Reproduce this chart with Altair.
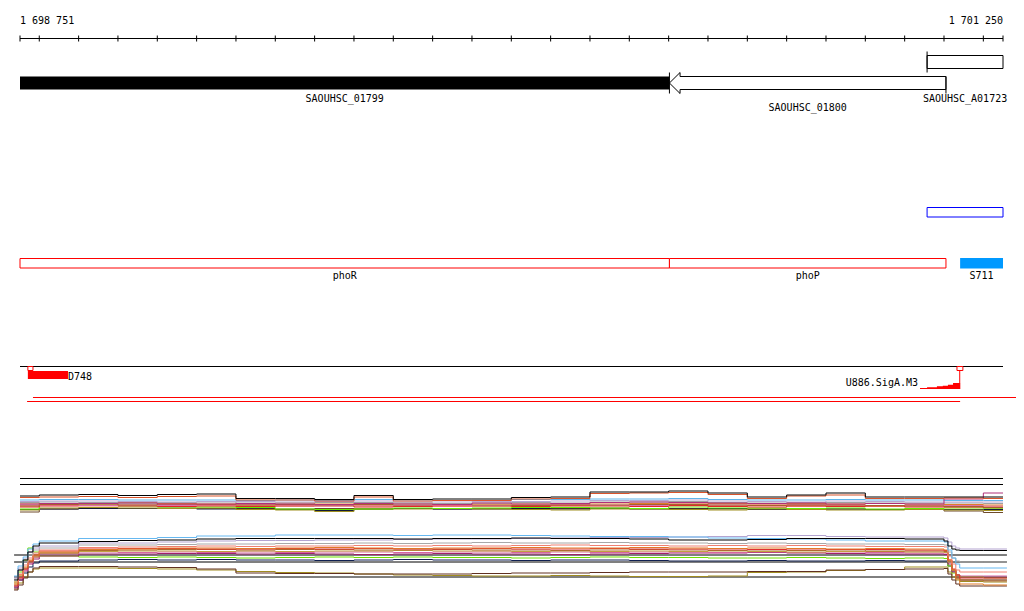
import altair as alt
import pandas as pd

# ------------------------------------------------------------------ data
VIEW_START = 1698751
VIEW_END = 1701250
RULER_TICKS = [VIEW_START] + list(range(1698800, 1701201, 100)) + [VIEW_END]

gene_names = ["SAOUHSC_01799", "SAOUHSC_01800", "SAOUHSC_A01723"]
gene_starts = [1698751, 1700402, 1701057]
gene_ends = [1700402, 1701105, 1701250]
gene_strands = ["+", "-", "+"]

blue_feature_start = [1701057]
blue_feature_end = [1701250]

operon_names = ["phoR", "phoP"]
operon_starts = [1698751, 1700402]
operon_ends = [1700402, 1701105]

srna_names = ["S711"]
srna_starts = [1701141]
srna_ends = [1701250]

tss_names = ["D748", "U886.SigA.M3"]
tss_marker_start = [1698771, 1701133]
tss_marker_end = [1698784, 1701148]
d748_bar = [1698771, 1698873]
u886_stem = [1701140]
u886_score_pos = [1701039, 1701057, 1701082, 1701097, 1701110, 1701123, 1701141]
u886_score = [1, 1.7, 2.7, 3.3, 4.3, 6, 6]

transcript_starts = [1698784, 1698769]
transcript_ends = [1701300, 1701141]

# coverage profiles, upper panel (level above panel baseline)
TOP_POS = [1698751, 1698800, 1698900, 1699000, 1699100, 1699200, 1699300, 1699400,
           1699500, 1699600, 1699700, 1699800, 1699900, 1700000, 1700100, 1700200,
           1700300, 1700400, 1700500, 1700600, 1700700, 1700800, 1700900, 1701000,
           1701100, 1701200, 1701250]
top_black = [18, 19, 19.5, 18.5, 19.5, 20, 15.5, 15.5, 14.5, 18.5, 14.5, 15, 15, 16.5, 17, 22, 22, 23, 21, 17, 19, 21, 17, 17, 17, 17, 17]
top_orange_red = [16.5, 17, 17.5, 16.5, 17.5, 18, 14, 14, 13, 17, 13, 13.5, 13.5, 15, 15.5, 20.5, 21, 21.5, 19.5, 15.5, 18, 19, 15.5, 15.5, 16, 15.5, 15.5]
top_magenta = [10, 10.5, 10.5, 11, 10, 10, 10.5, 10, 9.5, 10.5, 10, 9.5, 11, 10, 10.5, 11.5, 12, 11.5, 11, 10.5, 11, 10, 10.5, 10, 15, 21, 21]
top_light_blue = [14, 14.5, 14.5, 14, 14, 14, 13.5, 14, 13.5, 14.5, 14, 13.5, 13.5, 14.5, 14.5, 15, 15, 15.5, 14.5, 14, 14, 14.5, 14, 14, 13.5, 13.5, 13.5]
top_lavender = [12.5, 13, 13, 12.5, 12, 12.5, 12.5, 12, 12.5, 13, 12, 12, 12.5, 12.5, 13, 13.5, 13.5, 14, 13, 12.5, 12, 13, 12.5, 12, 12, 12, 12]
top_gray = [11.5, 12, 11.5, 11, 11.5, 12, 11, 11, 11.5, 11.5, 11, 10.5, 11, 11.5, 11, 12, 12, 12.5, 11.5, 11, 11.5, 11.5, 11, 11, 11, 10.5, 10.5]
top_orange = [11, 10.5, 11, 11.5, 10.5, 10, 10.5, 11, 10, 10.5, 11, 10.5, 10, 10, 10.5, 11, 10.5, 11, 10.5, 10, 10.5, 10, 10.5, 10, 9.5, 9, 9]
top_brown = [8, 9.5, 10, 9, 10, 9.5, 9, 9.5, 9, 9.5, 9, 9.5, 9, 8.5, 9, 9, 9.5, 9.5, 9, 8.5, 9, 9, 8.5, 8, 7.5, 6.5, 6.5]
top_pink = [9, 9, 8.5, 9, 8.5, 9, 9.5, 9, 8.5, 9, 8.5, 9, 8.5, 9, 9.5, 9, 8.5, 10, 9, 9, 9.5, 9, 8.5, 9, 8.5, 8, 8]
top_red = [7, 8, 8.5, 8, 7.5, 8, 7.5, 8, 8, 7, 7.5, 8, 8, 7.5, 8, 8, 7.5, 8.5, 7.5, 7, 8, 7.5, 8, 7, 7, 6.5, 6.5]
top_salmon = [8, 8.5, 8, 8.5, 9, 8.5, 8, 8.5, 9, 8.5, 8, 8, 8.5, 8, 8.5, 8.5, 9, 9, 8.5, 8.5, 8, 8.5, 8, 8.5, 8, 7.5, 7.5]
top_green = [5, 8.5, 8.5, 8, 7, 7, 6.5, 5, 4.5, 5, 6, 5.5, 6, 6.5, 6.5, 6, 5.5, 7, 6, 6, 5.5, 6, 5, 5.5, 6, 5.5, 5.5]
top_tan = [9, 10, 9.5, 10, 9.5, 9, 8.5, 8, 9, 8, 7.5, 8.5, 8, 8.5, 9, 8.5, 9, 8, 7.5, 8.5, 8, 8, 7.5, 8, 7, 6, 6]
top_olive = [4, 6, 6.5, 6, 5.5, 6, 4.5, 4, 2.5, 5, 5, 5.5, 5, 4.5, 4, 5, 5, 4.5, 4, 5, 4.5, 4, 4, 4.5, 4, 3.5, 3.5]
top_navy = [4.5, 5, 5.5, 5.5, 5.5, 5, 5, 4.5, 3.5, 5, 5.5, 5, 5, 5.5, 5, 5.5, 5, 5, 5.5, 4.5, 5, 5, 4.5, 5, 4.5, 4.5, 4.5]
top_dark_brown = [2, 5, 6, 5.5, 6, 5.5, 5.5, 5, 5.5, 5, 5.5, 5, 5.5, 5, 5.5, 6, 5.5, 5.5, 5, 5, 5.5, 5, 4.5, 4.5, 3, 1.5, 1.5]

# coverage profiles, lower panel (level above panel baseline)
BOTTOM_POS = [1698736, 1698746, 1698759, 1698771, 1698784, 1698800, 1698900, 1699000,
              1699100, 1699200, 1699300, 1699400, 1699500, 1699600, 1699700, 1699800,
              1699900, 1700000, 1700100, 1700200, 1700300, 1700400, 1700500, 1700600,
              1700700, 1700800, 1700900, 1701000, 1701100, 1701110, 1701120, 1701130,
              1701140, 1701200, 1701260]
bot_light_blue = [16, 26, 35, 43, 48, 51, 53.5, 53.5, 54.5, 56, 56, 57, 57, 57, 56.5, 57, 57, 56.5, 56, 55.5, 55.5, 55, 54, 53.5, 53, 52, 51, 51, 50, 42, 34, 28, 24, 24, 24]
bot_black = [12, 22, 32, 40, 46, 49, 50.5, 51.5, 52, 53, 53.5, 53.5, 53.5, 53.5, 53, 53.5, 53.5, 54, 53.5, 53.5, 53, 52, 52, 52.5, 53.5, 53.5, 53.5, 53, 51, 46, 43, 42, 41.5, 41.5, 41.5]
bot_lavender = [14, 24, 33, 40, 44, 46, 49, 49, 50, 51, 51.5, 51.5, 52, 52, 52.5, 53, 53, 53.5, 54, 54.5, 54.5, 55, 55.5, 56.5, 56.5, 55.5, 55, 55, 54, 50, 46, 44, 43, 43, 43]
bot_gray = [13, 22, 30, 37, 42, 44, 47, 47, 47.5, 48, 48, 48.5, 48.5, 49, 48.5, 49, 49.5, 49, 49, 49.5, 49, 49, 48.5, 49, 48.5, 48, 48, 47.5, 47, 40, 34, 31, 30, 30, 30]
bot_salmon = [10, 18, 27, 34, 39, 42, 44.5, 45, 45.5, 46, 45.5, 46, 46, 46.5, 46, 46.5, 46, 46.5, 47, 46.5, 46.5, 46, 46.5, 46, 46.5, 46, 45.5, 45.5, 45, 36, 28, 22, 20, 20, 20]
bot_orange = [8, 17, 25, 32, 37, 40, 42.5, 43, 44, 44, 43.5, 44, 44.5, 44, 43.5, 44, 44, 44.5, 44, 44, 44.5, 44, 43.5, 44, 43.5, 43, 43.5, 43, 42, 32, 22, 13, 8, 7, 7]
bot_brown = [7, 15, 23, 30, 35, 39, 41.5, 42, 42.5, 42.5, 42, 42.5, 42.5, 42, 42, 42.5, 42, 42, 41.5, 42, 42.5, 42, 41.5, 42, 41.5, 42, 41, 41, 40.5, 31, 22, 15, 12, 11, 11]
bot_khaki = [9, 17, 24, 31, 36, 39, 40.5, 41, 41, 40.5, 41, 40.5, 41, 41, 41.5, 41, 41, 40.5, 41, 40.5, 41, 40.5, 41, 40.5, 40, 40.5, 40.5, 40, 39.5, 30, 22, 17, 15, 14, 14]
bot_red = [6, 14, 23, 31, 37, 41, 43, 43.5, 43.5, 43, 43, 43.5, 43, 43.5, 43, 43, 43.5, 43, 43, 43.5, 43, 43, 43, 42.5, 43, 42.5, 42.5, 42, 41.5, 32, 23, 17, 14, 14, 14]
bot_magenta = [4, 12, 21, 28, 33, 36, 38, 38, 38.5, 38.5, 38, 38.5, 38, 37.5, 38, 38.5, 38, 38, 37.5, 38, 38.5, 39, 39, 39.5, 39, 38.5, 38, 38, 37.5, 28, 20, 14, 12, 12, 12]
bot_pink = [6, 14, 22, 29, 35, 38, 40, 39.5, 40, 39.5, 40, 39.5, 40, 40, 39.5, 40, 40, 39.5, 40, 39.5, 40, 40, 39.5, 40, 39.5, 40, 39.5, 39, 39, 30, 22, 17, 16, 16, 16]
bot_green = [10, 20, 32, 44, 40, 36, 35, 34.5, 35, 34.5, 34, 34.5, 35, 34.5, 35, 34.5, 34.5, 34, 34.5, 35, 34.5, 34.5, 34, 34, 34.5, 34, 33.5, 34, 33.5, 26, 19, 14, 12, 12, 12]
bot_navy = [5, 12, 19, 25, 29, 31, 32, 32.5, 32, 32.5, 32, 32, 31.5, 32, 32.5, 32, 32, 31.5, 32, 32, 31.5, 31, 31, 31.5, 31, 31, 31.5, 31, 31, 26, 21, 17, 15, 14.5, 14.5]
bot_dark_brown = [2, 7, 14, 20, 24, 25.5, 25.5, 25, 24.5, 23, 19, 18.5, 18.5, 18, 18, 18, 18.5, 19, 19, 19.5, 20, 20, 20, 20.5, 20.5, 22, 22.5, 23, 23.5, 18, 12, 8, 6, 6, 6]
bot_olive = [3, 9, 15, 20, 23, 24, 24, 23.5, 23, 22, 20.5, 19.5, 19, 18, 17, 16.5, 16, 16, 16.5, 16, 15.5, 15.5, 16, 19.5, 20, 21.5, 22.5, 25, 25, 20, 15, 12, 10.5, 10, 10]
bot_reference_levels = [37, 30, 15]
bot_reference_range = [1698736, 1701260]

# ------------------------------------------------------------------ layout / styles
W, H = 1008, 595
BP_PER_PX = (VIEW_END - VIEW_START) / 983.0
X_DOMAIN = [VIEW_START - 12 * BP_PER_PX, VIEW_START + 996 * BP_PER_PX]
Y_DOMAIN = [8, 8 + H]
FONT = "DejaVu Sans Mono"
FS = 10

RULER_Y, TICK_Y0, TICK_Y1, RULER_LABEL_Y = 38.5, 35.5, 41.5, 24
LANE_Y = {0: (55.5, 68.5), 1: (76.5, 89.5)}
GENE_LANE = [1, 1, 0]
GENE_LABEL_Y = [101.5, 110.5, 101.5]
HEAD = 27
BLUE_Y = (207.5, 217)
OPERON_Y = (258.5, 268)
OPERON_LABEL_Y = 278.5
TSS_LINE_Y = 366.5
TSS_MARK_Y = (366.5, 370.5)
D748_Y = (371, 379)
U886_BASE = 389
TRANSCRIPT_Y = [397.5, 401.5]
SEP_Y = [478.5, 484.5]
TOP_BASE, BOT_BASE = 514, 592

xs = alt.Scale(domain=X_DOMAIN, nice=False, zero=False)
ys = alt.Scale(domain=Y_DOMAIN, reverse=True, nice=False, zero=False)


def X(f):
    return alt.X(f"{f}:Q", scale=xs, axis=None)


def Y(f):
    return alt.Y(f"{f}:Q", scale=ys, axis=None)


def X2(f):
    return alt.X2(f"{f}:Q")


def Y2(f):
    return alt.Y2(f"{f}:Q")


def fmt(n):
    return f"{n:,}".replace(",", " ")


layers = []

# ruler
layers.append(alt.Chart(pd.DataFrame({"x": [VIEW_START], "x2": [VIEW_END], "y": [RULER_Y]}))
              .mark_rule(color="black", strokeWidth=1).encode(X("x"), X2("x2"), Y("y")))
layers.append(alt.Chart(pd.DataFrame({"x": RULER_TICKS, "y": TICK_Y0, "y2": TICK_Y1}))
              .mark_rule(color="black", strokeWidth=1).encode(X("x"), Y("y"), Y2("y2")))
layers.append(alt.Chart(pd.DataFrame({"x": [VIEW_START], "y": [RULER_LABEL_Y], "t": [fmt(VIEW_START)]}))
              .mark_text(align="left", baseline="alphabetic", font=FONT, fontSize=FS, color="black")
              .encode(X("x"), Y("y"), text="t:N"))
layers.append(alt.Chart(pd.DataFrame({"x": [VIEW_END], "y": [RULER_LABEL_Y], "t": [fmt(VIEW_END)]}))
              .mark_text(align="right", baseline="alphabetic", font=FONT, fontSize=FS, color="black")
              .encode(X("x"), Y("y"), text="t:N"))

# genes
genes = pd.DataFrame({"name": gene_names, "start": gene_starts, "end": gene_ends,
                      "strand": gene_strands})
genes["top"] = [LANE_Y[l][0] for l in GENE_LANE]
genes["bot"] = [LANE_Y[l][1] for l in GENE_LANE]
genes["mid"] = (genes["start"] + genes["end"]) / 2
genes["ly"] = GENE_LABEL_Y

filled = genes[genes["name"] == "SAOUHSC_01799"]
layers.append(alt.Chart(filled).mark_rect(color="black")
              .encode(X("start"), X2("end"), Y("top"), Y2("bot")))
boxed = genes[(genes["strand"] == "+") & (genes["name"] != "SAOUHSC_01799")]
layers.append(alt.Chart(boxed).mark_rect(fill="white", stroke="black", strokeWidth=1)
              .encode(X("start"), X2("end"), Y("top"), Y2("bot")))

arrow_pts = []
for _, g in genes[genes["strand"] == "-"].iterrows():
    s, e, t, b = g["start"], g["end"], g["top"], g["bot"]
    m = (t + b) / 2
    pts = [(s + HEAD, t), (e, t), (e, b), (s + HEAD, b), (s + HEAD, m + 10.5),
           (s, m), (s + HEAD, m - 10.5), (s + HEAD, t)]
    for i, (px, py) in enumerate(pts):
        arrow_pts.append({"gene": g["name"], "o": i, "x": px, "y": py})
layers.append(alt.Chart(pd.DataFrame(arrow_pts))
              .mark_line(color="black", strokeWidth=1, interpolate="linear")
              .encode(X("x"), Y("y"), order="o:Q", detail="gene:N"))

# gene boundary markers
bmarks = pd.DataFrame({"x": [gene_starts[1], gene_ends[1], gene_starts[2]],
                       "y": [72.5, 76.5, 51.5], "y2": [93.5, 93.5, 72.5]})
layers.append(alt.Chart(bmarks).mark_rule(color="black", strokeWidth=1)
              .encode(X("x"), Y("y"), Y2("y2")))
layers.append(alt.Chart(genes).mark_text(baseline="alphabetic", font=FONT, fontSize=FS, color="black")
              .encode(X("mid"), Y("ly"), text="name:N"))

# blue outline feature
layers.append(alt.Chart(pd.DataFrame({"s": blue_feature_start, "e": blue_feature_end,
                                      "t": [BLUE_Y[0]], "b": [BLUE_Y[1]]}))
              .mark_rect(fill="white", stroke="#0000ff", strokeWidth=1)
              .encode(X("s"), X2("e"), Y("t"), Y2("b")))

# operon genes
ops = pd.DataFrame({"name": operon_names, "s": operon_starts, "e": operon_ends})
ops["t"], ops["b"], ops["ly"] = OPERON_Y[0], OPERON_Y[1], OPERON_LABEL_Y
ops["mid"] = (ops["s"] + ops["e"]) / 2
layers.append(alt.Chart(ops).mark_rect(fill="white", stroke="#ff0000", strokeWidth=1)
              .encode(X("s"), X2("e"), Y("t"), Y2("b")))
layers.append(alt.Chart(ops).mark_text(baseline="alphabetic", font=FONT, fontSize=FS, color="black")
              .encode(X("mid"), Y("ly"), text="name:N"))
srna = pd.DataFrame({"name": srna_names, "s": srna_starts, "e": srna_ends})
srna["t"], srna["b"], srna["ly"] = OPERON_Y[0] - 0.5, OPERON_Y[1] + 0.5, OPERON_LABEL_Y
srna["mid"] = (srna["s"] + srna["e"]) / 2
layers.append(alt.Chart(srna).mark_rect(color="#0099ff")
              .encode(X("s"), X2("e"), Y("t"), Y2("b")))
layers.append(alt.Chart(srna).mark_text(baseline="alphabetic", font=FONT, fontSize=FS, color="black")
              .encode(X("mid"), Y("ly"), text="name:N"))

# TSS track
layers.append(alt.Chart(pd.DataFrame({"x": [VIEW_START], "x2": [VIEW_END], "y": [TSS_LINE_Y]}))
              .mark_rule(color="black", strokeWidth=1).encode(X("x"), X2("x2"), Y("y")))
marks = pd.DataFrame({"s": tss_marker_start, "e": tss_marker_end,
                      "t": TSS_MARK_Y[0], "b": TSS_MARK_Y[1]})
layers.append(alt.Chart(marks).mark_rect(fill="white", stroke="#ff0000", strokeWidth=1)
              .encode(X("s"), X2("e"), Y("t"), Y2("b")))
layers.append(alt.Chart(pd.DataFrame({"s": [d748_bar[0]], "e": [d748_bar[1]],
                                      "t": [D748_Y[0]], "b": [D748_Y[1]]}))
              .mark_rect(color="#ff0000").encode(X("s"), X2("e"), Y("t"), Y2("b")))
layers.append(alt.Chart(pd.DataFrame({"x": [d748_bar[1]], "y": [379.5], "t": [tss_names[0]]}))
              .mark_text(align="left", baseline="alphabetic", font=FONT, fontSize=FS, color="black")
              .encode(X("x"), Y("y"), text="t:N"))
layers.append(alt.Chart(pd.DataFrame({"x": u886_stem, "y": [TSS_MARK_Y[1]], "y2": [U886_BASE]}))
              .mark_rule(color="#ff0000", strokeWidth=1).encode(X("x"), Y("y"), Y2("y2")))
layers.append(alt.Chart(pd.DataFrame({"x": u886_score_pos, "score": u886_score}))
              .transform_calculate(top=f"{U886_BASE} - datum.score", base=f"{U886_BASE}")
              .mark_area(color="#ff0000", interpolate="step-after")
              .encode(X("x"), Y("top"), Y2("base")))
layers.append(alt.Chart(pd.DataFrame({"x": [u886_score_pos[0]], "y": [386], "t": [tss_names[1]]}))
              .mark_text(align="right", baseline="alphabetic", font=FONT, fontSize=FS, color="black", dx=-2)
              .encode(X("x"), Y("y"), text="t:N"))

# transcripts
layers.append(alt.Chart(pd.DataFrame({"s": transcript_starts, "e": transcript_ends, "y": TRANSCRIPT_Y}))
              .mark_rule(color="#ff0000", strokeWidth=1).encode(X("s"), X2("e"), Y("y")))

# separators
layers.append(alt.Chart(pd.DataFrame({"s": VIEW_START, "e": VIEW_END, "y": SEP_Y}))
              .mark_rule(color="black", strokeWidth=1).encode(X("s"), X2("e"), Y("y")))


def profile_layer(pos, values, base, color):
    df = pd.DataFrame({"pos": pos, "level": values})
    return (alt.Chart(df).transform_calculate(y=f"{base} - datum.level")
            .mark_line(color=color, strokeWidth=1, interpolate="step-after")
            .encode(X("pos"), Y("y")))


top_series = [
    (top_dark_brown, "#6e4a2a"), (top_navy, "#101838"), (top_olive, "#a09020"),
    (top_green, "#66ee00"), (top_tan, "#c8a870"), (top_salmon, "#f49070"),
    (top_red, "#e02828"), (top_pink, "#e070a8"), (top_brown, "#a8602c"),
    (top_orange, "#e07c2a"), (top_gray, "#a0a0a0"), (top_lavender, "#b8a6d2"),
    (top_light_blue, "#5fb4ea"), (top_magenta, "#b0307a"), (top_orange_red, "#d9542b"),
    (top_black, "#000000"),
]
for vals, col in top_series:
    layers.append(profile_layer(TOP_POS, vals, TOP_BASE, col))

ref = pd.DataFrame({"s": bot_reference_range[0], "e": bot_reference_range[1],
                    "level": bot_reference_levels})
layers.append(alt.Chart(ref).transform_calculate(y=f"{BOT_BASE} - datum.level")
              .mark_rule(color="black", strokeWidth=1).encode(X("s"), X2("e"), Y("y")))

bot_series = [
    (bot_olive, "#a08c20"), (bot_dark_brown, "#603020"), (bot_navy, "#102050"),
    (bot_green, "#6ee000"), (bot_magenta, "#a0206a"), (bot_pink, "#d864a4"),
    (bot_khaki, "#c0a040"), (bot_brown, "#b06a30"), (bot_red, "#e03030"),
    (bot_orange, "#e07a28"), (bot_salmon, "#f08070"), (bot_gray, "#a8a8a8"),
    (bot_lavender, "#b4a4d0"), (bot_light_blue, "#66b8f0"), (bot_black, "#000000"),
]
for vals, col in bot_series:
    layers.append(profile_layer(BOTTOM_POS, vals, BOT_BASE, col))

chart = (alt.layer(*layers)
         .properties(width=W, height=H, padding=0, background="white",
                     autosize=alt.AutoSizeParams(type="none"))
         .configure_view(stroke=None))

chart.save("out.html", embed_options={"renderer": "svg", "actions": False})
